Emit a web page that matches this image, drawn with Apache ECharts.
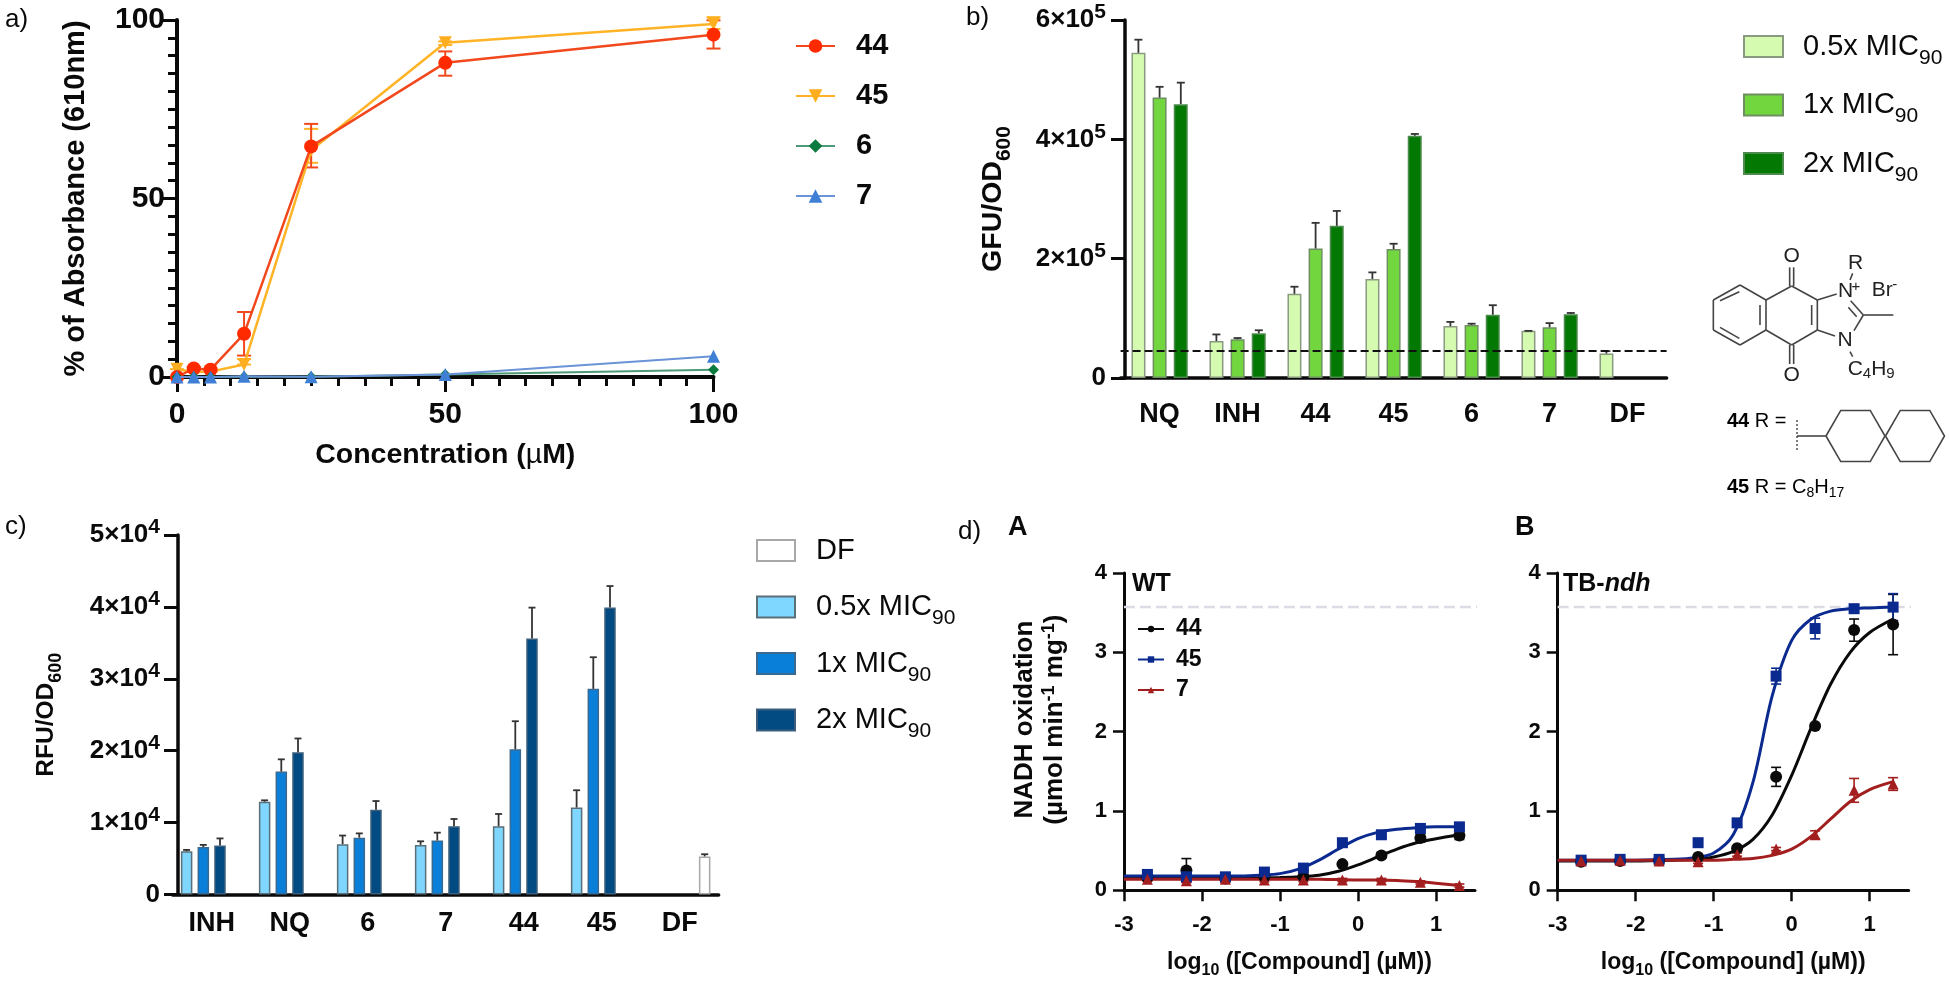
<!DOCTYPE html>
<html><head><meta charset="utf-8">
<style>html,body{margin:0;padding:0;background:#fff}#c{width:1950px;height:982px}</style>
<script src="https://cdn.jsdelivr.net/npm/echarts@6/dist/echarts.min.js"></script>
</head><body><div id="c"></div>
<script>
// ---------- panel a ----------
const aConc = [0, 3.125, 6.25, 12.5, 25, 50, 100];
const a44 = [0, 2.4, 2.05, 12.1, 64.6, 88, 95.9];
const a44Lo = [0, 2.0, 1.7, 6, 58.7, 84.4, 92];
const a44Hi = [0, 2.8, 2.4, 18.2, 70.9, 91.2, 99.9];
const a45 = [2.2, 1.4, 1.5, 3.5, 63.5, 93.6, 98.9];
const a45Lo = [2.2, 1.4, 1.5, 3.5, 60, 93, 97.5];
const a45Hi = [2.2, 1.4, 1.5, 5, 69.5, 94, 100.8];
const a6 = [0, 0.1, 0, 0.1, 0.1, 0.7, 2.05];
const a7 = [0, 0, 0, 0.2, 0.1, 0.7, 5.8];
// ---------- panel b ----------
const bCats = ['NQ', 'INH', '44', '45', '6', '7', 'DF'];
const bHalf = [545000, 62000, 141000, 166000, 87000, 79000, 41000];
const bOne = [470000, 65000, 217000, 216000, 89000, 85000, null];
const bTwo = [459000, 75000, 255000, 406000, 106000, 107000, null];
const bHalfHi = [567000, 73000, 153000, 177000, 94000, 79000, 45000];
const bOneHi = [488000, 67000, 260000, 225000, 91000, 92000, null];
const bTwoHi = [495000, 80000, 280000, 409000, 122000, 109000, null];
const bTicks = ['{m|0}', '{m|2×10}{u|5}', '{m|4×10}{u|5}', '{m|6×10}{u|5}'];
const bBaseline = 45800;
// ---------- panel c ----------
const cCats = ['INH', 'NQ', '6', '7', '44', '45', 'DF'];
const cHalf = [6000, 12900, 7000, 6900, 9500, 12100, null];
const cOne = [6600, 17100, 7900, 7500, 20200, 28600, null];
const cTwo = [6800, 19800, 11800, 9500, 35600, 39900, null];
const cDF = [null, null, null, null, null, null, 5300];
const cHalfHi = [6200, 13100, 8200, 7400, 11200, 14500, null];
const cOneHi = [6900, 18800, 8500, 8600, 24100, 33000, null];
const cTwoHi = [7800, 21700, 13000, 10500, 39900, 42900, null];
const cDFHi = [null, null, null, null, null, null, 5600];
const cTicks = ['{m|0}', '{m|1×10}{u|4}', '{m|2×10}{u|4}', '{m|3×10}{u|4}', '{m|4×10}{u|4}', '{m|5×10}{u|4}'];
// ---------- panel d ----------
const dDose = [-2.7, -2.2, -1.7, -1.2, -0.7, -0.2, 0.3, 0.8, 1.3];
const dTicks = [-3, -2, -1, 0, 1];
const dA44 = [.16, .25, .15, .17, .17, .33, .44, .66, .69];
const dA44Err = [.04, .15, .05, .03, .03, .02, .03, .05, .05];
const dA45 = [.2, .17, .17, .23, .28, .6, .7, .78, .8];
const dA45Err = [.03, .03, .03, .03, .03, .03, .03, .03, .03];
const dA7 = [.14, .12, .14, .13, .13, .13, .13, .10, .06];
const dA7Err = [.02, .02, .02, .02, .02, .02, .02, .02, .02];
const dB44 = [.36, .37, .38, .42, .53, 1.43, 2.07, 3.28, 3.35];
const dB44Err = [.03, .03, .03, .03, .03, .12, .03, .14, .38];
const dB45 = [.38, .39, .39, .6, .85, 2.7, 3.3, 3.55, 3.57];
const dB45Err = [.03, .03, .03, .05, .03, .1, .13, .05, .17];
const dB7 = [.37, .38, .37, .36, .45, .52, .70, 1.26, 1.34];
const dB7Err = [.02, .02, .02, .02, .02, .02, .05, .15, .08];
const dCurveX = [-3, -2, -1.5, -1.25, -1, -.75, -.5, -.25, 0, .25, .5, .75, 1, 1.3];
const dA44Curve = [.15, .15, .15, .155, .16, .17, .19, .24, .32, .42, .52, .60, .65, .70];
const dA45Curve = [.18, .18, .18, .19, .21, .27, .38, .52, .65, .73, .77, .79, .8, .8];
const dA7Curve = [.14, .14, .14, .14, .14, .14, .14, .135, .13, .13, .125, .11, .09, .06];
const dB44Curve = [.37, .37, .38, .39, .42, .49, .64, .95, 1.45, 2.05, 2.6, 3.0, 3.25, 3.42];
const dB45Curve = [.38, .38, .39, .41, .47, .70, 1.35, 2.45, 3.15, 3.42, 3.52, 3.55, 3.56, 3.57];
const dB7Curve = [.38, .38, .38, .38, .38, .39, .40, .44, .52, .68, .90, 1.12, 1.27, 1.37];
const dTop = 3.57;

const zip = (xs, ys) => xs.map((x, i) => [x, ys[i]]);
const F = 'Liberation Sans';
const BLK = '#0a0a0a';

function errSeries(xi, yi, xs, lo, hi, color, off, cap, lw) {
  return {
    type: 'custom', xAxisIndex: xi, yAxisIndex: yi, z: 3, silent: true, clip: false,
    data: xs.map((x, i) => [x, lo[i], hi[i]]).filter(r => r[1] != null),
    encode: { x: 0, y: [1, 2] },
    renderItem(p, api) {
      const a = api.coord([api.value(0), api.value(1)]);
      const b = api.coord([api.value(0), api.value(2)]);
      const x = a[0] + off;
      const st = { stroke: color, lineWidth: lw, fill: null };
      const ch = [{ type: 'line', shape: { x1: x, y1: a[1], x2: x, y2: b[1] }, style: st },
        { type: 'line', shape: { x1: x - cap, y1: b[1], x2: x + cap, y2: b[1] }, style: st }];
      if (api.value(1) !== api.value(2)) ch.push({ type: 'line', shape: { x1: x - cap, y1: a[1], x2: x + cap, y2: a[1] }, style: st });
      return { type: 'group', children: ch };
    }
  };
}
function upErr(xi, yi, xs, lo, hi, color, off, cap, lw) {
  const s = errSeries(xi, yi, xs, lo, hi, color, off, cap, lw);
  const orig = s.renderItem;
  s.renderItem = (p, api) => {
    const g = orig(p, api);
    g.children = g.children.slice(0, 2);
    return g;
  };
  return s;
}
function barS(name, xi, yi, data, color, border, gap, w) {
  return { name, type: 'bar', xAxisIndex: xi, yAxisIndex: yi, data, barWidth: w, barGap: gap, z: 2,
    itemStyle: { color, borderColor: border, borderWidth: 1.5 } };
}
const rich = (m, u) => ({
  m: { fontFamily: F, fontWeight: 'bold', fontSize: m, lineHeight: 36, verticalAlign: 'middle', color: BLK },
  u: { fontFamily: F, fontWeight: 'bold', fontSize: u, verticalAlign: 'top', color: BLK }
});
const yCommon = (fs) => ({
  type: 'value', splitLine: { show: false },
  axisLine: { show: true, onZero: false, lineStyle: { color: BLK, width: 3.5 } },
  axisTick: { show: true, length: 14, lineStyle: { color: BLK, width: 3 } },
  axisLabel: { margin: 12, fontFamily: F, fontWeight: 'bold', fontSize: fs, color: BLK }
});
const catX = (g, cats, margin) => ({
  type: 'category', gridIndex: g, data: cats,
  axisLine: { onZero: false, lineStyle: { color: BLK, width: 3.5 } },
  axisTick: { alignWithLabel: true, length: 14, lineStyle: { color: BLK, width: 3 } },
  axisLabel: { interval: 0, margin, fontFamily: F, fontWeight: 'bold', fontSize: 27, color: BLK }
});
const subRich = {
  b: { fontFamily: F, fontWeight: 'bold', fontSize: 28.5, lineHeight: 44, verticalAlign: 'middle', color: BLK },
  s: { fontFamily: F, fontWeight: 'bold', fontSize: 21, verticalAlign: 'bottom', color: BLK }
};
const subRichC = {
  b: { fontFamily: F, fontWeight: 'bold', fontSize: 24.5, lineHeight: 38, verticalAlign: 'middle', color: BLK },
  s: { fontFamily: F, fontWeight: 'bold', fontSize: 18, verticalAlign: 'bottom', color: BLK }
};
const micRich = {
  r: { fontFamily: F, fontSize: 29, lineHeight: 44, verticalAlign: 'middle', color: BLK },
  s: { fontFamily: F, fontSize: 21, verticalAlign: 'bottom', color: BLK }
};
const micLabels = { b5: '{r|0.5x MIC}{s|90}', b1: '{r|1x MIC}{s|90}', b2: '{r|2x MIC}{s|90}',
  c5: '{r|0.5x MIC}{s|90}', c1: '{r|1x MIC}{s|90}', c2: '{r|2x MIC}{s|90}', cd: '{r|DF}{s| }' };

// d panel helper
function dSeries(xi, yi, pts, errs, cy, color, symbol, size, nm) {
  return [
    { name: nm, type: 'line', xAxisIndex: xi, yAxisIndex: yi, data: zip(dCurveX, cy), smooth: 0.3,
      symbol, showSymbol: false, lineStyle: { color, width: 3 }, itemStyle: { color }, z: 3, clip: false },
    { type: 'scatter', xAxisIndex: xi, yAxisIndex: yi, data: zip(dDose, pts), symbol, symbolSize: size, itemStyle: { color, opacity: 1 }, z: 5, clip: false },
    errSeries(xi, yi, dDose, pts.map((v, i) => Math.max(v - errs[i], 0)), pts.map((v, i) => v + errs[i]), color, 0, 5, 1.6)
  ];
}
const dX = (g) => ({
  type: 'value', gridIndex: g, min: -3, max: 1.5, splitLine: { show: false },
  axisLine: { onZero: false, lineStyle: { color: BLK, width: 3 } },
  axisTick: { length: 11, customValues: dTicks, lineStyle: { color: BLK, width: 2.5 } },
  axisLabel: { customValues: dTicks, margin: 24, fontFamily: F, fontWeight: 'bold', fontSize: 22, color: BLK },
  name: '{b|log}{s|10}{b| ([Compound] (µM))}', nameLocation: 'middle', nameGap: 56,
  nameTextStyle: { rich: {
    b: { fontFamily: F, fontWeight: 'bold', fontSize: 23, lineHeight: 32, verticalAlign: 'middle', color: BLK },
    s: { fontFamily: F, fontWeight: 'bold', fontSize: 16, verticalAlign: 'bottom', color: BLK } } }
});
const dY = (g) => ({
  ...yCommon(22), gridIndex: g, min: 0, max: 4, interval: 1,
  axisLine: { onZero: false, lineStyle: { color: BLK, width: 3 } },
  axisTick: { length: 11, lineStyle: { color: BLK, width: 2.5 } }, axisLabel: { margin: 17, fontFamily: F, fontWeight: 'bold', fontSize: 22, color: BLK }
});
const dashS = (xi, yi) => ({ type: 'line', xAxisIndex: xi, yAxisIndex: yi, data: [[-3, dTop], [1.6, dTop]], symbol: 'none', clip: false, silent: true, z: 1,
  lineStyle: { color: '#dcdce4', width: 2.5, type: [11, 5] } });

const series = [
  // a
  { name: 'a45', type: 'line', xAxisIndex: 0, yAxisIndex: 0, data: zip(aConc, a45), symbol: 'triangle', symbolRotate: 180, symbolSize: 13, clip: false, z: 4,
    lineStyle: { color: '#FFB326', width: 2.5 }, itemStyle: { color: '#FFAE1F' } },
  errSeries(0, 0, aConc, a45Lo, a45Hi, '#FFB326', 0, 7, 2),
  { name: 'a44', type: 'line', xAxisIndex: 0, yAxisIndex: 0, data: zip(aConc, a44), symbol: 'circle', symbolSize: 14, clip: false, z: 5,
    lineStyle: { color: '#F2481E', width: 2.5 }, itemStyle: { color: '#FF2A00' } },
  errSeries(0, 0, aConc, a44Lo, a44Hi, '#F2481E', 0, 7, 2),
  { name: 'a6', type: 'line', xAxisIndex: 0, yAxisIndex: 0, data: zip(aConc, a6), symbol: 'diamond', symbolSize: 11, clip: false, z: 6,
    lineStyle: { color: '#4E9A78', width: 2 }, itemStyle: { color: '#0A7B3E' } },
  { name: 'a7', type: 'line', xAxisIndex: 0, yAxisIndex: 0, data: zip(aConc, a7), symbol: 'triangle', symbolSize: 13, clip: false, z: 7,
    lineStyle: { color: '#6A93D8', width: 2 }, itemStyle: { color: '#3F7FD6' } },
  // b
  { ...barS('b5', 1, 1, bHalf, '#D5FBB0', '#8a9a80', '51%', 14),
    markLine: { silent: true, symbol: 'none', label: { show: false }, z: 6, lineStyle: { color: '#111', width: 2, type: [8, 4] }, data: [{ yAxis: bBaseline }] } },
  barS('b1', 1, 1, bOne, '#72D63E', '#6f8f62', '51%', 14),
  barS('b2', 1, 1, bTwo, '#037803', '#4d8a4d', '51%', 14),
  upErr(1, 1, bCats.map((c, i) => i), bHalf, bHalfHi, '#333', -21.2, 4, 1.8),
  upErr(1, 1, bCats.map((c, i) => i), bOne, bOneHi, '#333', 0, 4, 1.8),
  upErr(1, 1, bCats.map((c, i) => i), bTwo, bTwoHi, '#333', 21.2, 4, 1.8),
  // c
  barS('c5', 2, 2, cHalf, '#7FD6FF', '#5b6f78', '45%', 11.5),
  barS('c1', 2, 2, cOne, '#0A7FDA', '#3a6a90', '45%', 11.5),
  barS('c2', 2, 2, cTwo, '#024A82', '#3b5f7c', '45%', 11.5),
  barS('cd', 2, 2, cDF, '#ffffff', '#a8a8a8', '45%', 11.5),
  upErr(2, 2, cCats.map((c, i) => i), cHalf, cHalfHi, '#333', -25.05, 3.5, 1.8),
  upErr(2, 2, cCats.map((c, i) => i), cOne, cOneHi, '#333', -8.35, 3.5, 1.8),
  upErr(2, 2, cCats.map((c, i) => i), cTwo, cTwoHi, '#333', 8.35, 3.5, 1.8),
  upErr(2, 2, cCats.map((c, i) => i), cDF, cDFHi, '#333', 25.05, 3.5, 1.8),
  // d
  dashS(3, 3), dashS(4, 4),
  ...dSeries(3, 3, dA44, dA44Err, dA44Curve, '#0a0a0a', 'circle', 12, 'd44'),
  ...dSeries(3, 3, dA45, dA45Err, dA45Curve, '#0B2A8F', 'rect', 11, 'd45'),
  ...dSeries(3, 3, dA7, dA7Err, dA7Curve, '#A31E1E', 'triangle', 11, 'd7'),
  ...dSeries(4, 4, dB44, dB44Err, dB44Curve, '#0a0a0a', 'circle', 12, 'e44'),
  ...dSeries(4, 4, dB45, dB45Err, dB45Curve, '#0B2A8F', 'rect', 11, 'e45'),
  ...dSeries(4, 4, dB7, dB7Err, dB7Curve, '#A31E1E', 'triangle', 11, 'e7')
];

const strip = n => n.replace(/^[a-z]/, '');
const legends = [
  { left: 795, top: 31, padding: 0, orient: 'vertical', itemWidth: 39, itemHeight: 17, itemGap: 20, selectedMode: false,
    data: ['a44', 'a45', 'a6', 'a7'], formatter: strip,
    textStyle: { fontFamily: F, fontWeight: 'bold', fontSize: 29, lineHeight: 30, color: BLK, padding: [0, 0, 0, 16] } },
  { left: 1743, top: 32, padding: 0, orient: 'vertical', itemWidth: 39, itemHeight: 21, itemGap: 22, selectedMode: false, icon: 'rect',
    data: ['b5', 'b1', 'b2'], formatter: n => micLabels[n],
    textStyle: { rich: micRich, padding: [0, 0, 0, 15] } },
  { left: 756, top: 536, padding: 0, orient: 'vertical', itemWidth: 38, itemHeight: 21, itemGap: 20, selectedMode: false, icon: 'rect',
    data: ['cd', 'c5', 'c1', 'c2'], formatter: n => micLabels[n],
    textStyle: { rich: micRich, padding: [0, 0, 0, 16] } },
  { left: 1137, top: 614, padding: 0, orient: 'vertical', itemWidth: 26, itemHeight: 8, itemGap: 0.5, selectedMode: false,
    data: ['d44', 'd45', 'd7'], formatter: strip,
    textStyle: { fontFamily: F, fontWeight: 'bold', fontSize: 23, lineHeight: 30, color: BLK, padding: [0, 0, 0, 7] } }
];

const option = {
  animation: false, backgroundColor: '#fff',
  grid: [
    { left: 177, top: 20, width: 536.5, height: 357 },
    { left: 1120.6, top: 20, width: 546, height: 358 },
    { left: 172.65, top: 535, width: 546, height: 359.5 },
    { left: 1124, top: 573, width: 351, height: 317.3 },
    { left: 1557.7, top: 573, width: 351, height: 317.3 }
  ],
  xAxis: [
    { type: 'value', gridIndex: 0, min: 0, max: 100, interval: 50, splitLine: { show: false },
      axisLine: { onZero: false, lineStyle: { color: BLK, width: 4 } },
      axisTick: { length: 15, lineStyle: { color: BLK, width: 3 } },
      minorTick: { show: true, splitNumber: 10, length: 9, lineStyle: { color: BLK, width: 3 } },
      axisLabel: { margin: 23, fontFamily: F, fontWeight: 'bold', fontSize: 30, color: BLK, showMinLabel: true, showMaxLabel: true },
      name: '{b|Concentration (}{m|µ}{b|M)}', nameLocation: 'middle', nameGap: 64,
      nameTextStyle: { rich: {
        b: { fontFamily: F, fontWeight: 'bold', fontSize: 28.5, color: BLK },
        m: { fontFamily: F, fontSize: 28.5, color: BLK } } } },
    catX(1, bCats, 23),
    catX(2, cCats, 16),
    dX(3), dX(4)
  ],
  yAxis: [
    { ...yCommon(30), gridIndex: 0, min: 0, max: 100, interval: 50,
      axisLine: { onZero: false, lineStyle: { color: BLK, width: 4 } },
      axisTick: { length: 15, lineStyle: { color: BLK, width: 3 } },
      minorTick: { show: true, splitNumber: 10, length: 9, lineStyle: { color: BLK, width: 3 } },
      name: '% of Absorbance (610nm)', nameLocation: 'middle', nameGap: 87,
      nameTextStyle: { fontFamily: F, fontWeight: 'bold', fontSize: 29, color: BLK } },
    { ...yCommon(26), gridIndex: 1, min: 0, max: 600000, interval: 200000, offset: -4.4,
      axisLabel: { margin: 19, formatter: (v) => bTicks[v / 200000], rich: rich(26, 21) },
      name: '{b|GFU/OD}{s|600}', nameLocation: 'middle', nameGap: 110,
      nameTextStyle: { rich: subRich } },
    { ...yCommon(26), gridIndex: 2, min: 0, max: 50000, interval: 10000, offset: -5.35,
      axisLabel: { margin: 18, formatter: (v) => cTicks[v / 10000], rich: rich(26, 21) },
      name: '{b|RFU/OD}{s|600}', nameLocation: 'middle', nameGap: 113,
      nameTextStyle: { rich: subRichC } },
    { ...dY(3),
      name: '{b|NADH oxidation}\n{b|(µmol min}{u|-1}{b| mg}{u|-1}{b|)}', nameLocation: 'middle', nameGap: 54,
      nameTextStyle: { padding: [0, 0, 0, 24], rich: {
        b: { fontFamily: F, fontWeight: 'bold', fontSize: 26, lineHeight: 30, verticalAlign: 'middle', color: BLK },
        u: { fontFamily: F, fontWeight: 'bold', fontSize: 18, verticalAlign: 'top', color: BLK } } } },
    dY(4)
  ],
  legend: legends,
  series,
  graphic: []
};

// ---------- text labels and chemical drawing ----------
const T = (x, y, text, font, extra) => ({ type: 'text', silent: true, z: 50,
  style: { x, y, text, font, fill: BLK, textVerticalAlign: 'middle', ...(extra || {}) } });
const reg26 = `26px "${F}"`, bold27 = `bold 27px "${F}"`, bold25 = `bold 25px "${F}"`;
const gr = option.graphic;
gr.push(T(5, 20, 'a)', reg26), T(966, 18, 'b)', reg26), T(5, 527, 'c)', reg26), T(958, 532, 'd)', reg26),
  T(1008, 528, 'A', bold27), T(1515, 528, 'B', bold27), T(1132, 584, 'WT', bold25));
gr.push({ type: 'text', silent: true, z: 50, style: { x: 1563, y: 584, textVerticalAlign: 'middle', fill: BLK,
  text: '{a|TB-}{b|ndh}', rich: {
    a: { fontFamily: F, fontWeight: 'bold', fontSize: 25, fill: BLK, color: BLK },
    b: { fontFamily: F, fontWeight: 'bold', fontStyle: 'italic', fontSize: 25, fill: BLK, color: BLK } } } });

const chemX = zx => 1680 + zx / 3, chemY = zy => 210 + zy / 3;
const chemBonds = [
  [100,270,180,225],[180,225,258,270],[258,270,258,360],[258,360,180,405],[180,405,100,360],[100,360,100,270],
  [120,272,178,245],[240,285,240,345],[120,352,178,385],
  [258,270,335,228],[335,228,412,270],[412,270,412,360],[412,360,335,405],[335,405,258,360],[395,285,395,345],
  [329,228,329,172],[341,228,341,172],[329,405,329,462],[341,405,341,462],
  [412,270,470,252],[412,360,465,378],[512,272,550,315],[505,292,530,320],[522,362,550,315],[550,315,640,315],
  [518,190,510,210],[510,425,518,440]
];
chemBonds.forEach(b => gr.push({ type: 'line', silent: true, z: 40,
  shape: { x1: chemX(b[0]), y1: chemY(b[1]), x2: chemX(b[2]), y2: chemY(b[3]) },
  style: { stroke: '#444', lineWidth: 1.6 } }));
const chem20 = `21px "${F}"`;
const ctr = { textAlign: 'center', fill: '#222' };
gr.push(T(chemX(335), chemY(138), 'O', chem20, ctr), T(chemX(335), chemY(497), 'O', chem20, ctr),
  T(chemX(527), chemY(160), 'R', chem20, ctr), T(chemX(497), chemY(245), 'N', chem20, ctr),
  T(chemX(528), chemY(232), '+', `15px "${F}"`, ctr), T(chemX(495), chemY(392), 'N', chem20, ctr),
  T(chemX(575), chemY(240), 'Br', chem20, { fill: '#222' }), T(chemX(637), chemY(225), '-', `15px "${F}"`, { fill: '#222' }));
gr.push({ type: 'text', silent: true, z: 50, style: { x: chemX(503), y: chemY(478), textVerticalAlign: 'middle', fill: '#222',
  text: '{a|C}{s|4}{a|H}{s|9}', rich: { a: { fontFamily: F, fontSize: 21, lineHeight: 24, verticalAlign: 'middle', color: '#222' }, s: { fontFamily: F, fontSize: 15, verticalAlign: 'bottom', color: '#222' } } } });
// spiro substituent
const hex = (cx, cy, s) => { const h = s * Math.sqrt(3) / 2; return [[cx - s, cy], [cx - s / 2, cy - h], [cx + s / 2, cy - h], [cx + s, cy], [cx + s / 2, cy + h], [cx - s / 2, cy + h], [cx - s, cy]]; };
[[1855.5, 436], [1915, 436]].forEach(c => gr.push({ type: 'polyline', silent: true, z: 40, shape: { points: hex(c[0], c[1], 29.5) }, style: { stroke: '#444', lineWidth: 1.6, fill: null } }));
gr.push({ type: 'line', silent: true, z: 40, shape: { x1: 1797, y1: 436, x2: 1826, y2: 436 }, style: { stroke: '#444', lineWidth: 1.6 } });
gr.push({ type: 'line', silent: true, z: 40, shape: { x1: 1797, y1: 420, x2: 1797, y2: 452 }, style: { stroke: '#444', lineWidth: 1.4, lineDash: [2, 2] } });
const labRich = { b: { fontFamily: F, fontWeight: 'bold', fontSize: 20, lineHeight: 26, verticalAlign: 'middle', color: BLK },
  a: { fontFamily: F, fontSize: 20, lineHeight: 26, verticalAlign: 'middle', color: '#222' },
  s: { fontFamily: F, fontSize: 14, verticalAlign: 'bottom', color: '#222' } };
gr.push({ type: 'text', silent: true, z: 50, style: { x: 1727, y: 421, textVerticalAlign: 'middle', text: '{b|44}{a| R =}', rich: labRich } });
gr.push({ type: 'text', silent: true, z: 50, style: { x: 1727, y: 487, textVerticalAlign: 'middle', text: '{b|45}{a| R = C}{s|8}{a|H}{s|17}', rich: labRich } });

const chart = echarts.init(document.getElementById('c'), null, { renderer: 'canvas', width: 1950, height: 982 });
chart.setOption(option);
</script></body></html>
